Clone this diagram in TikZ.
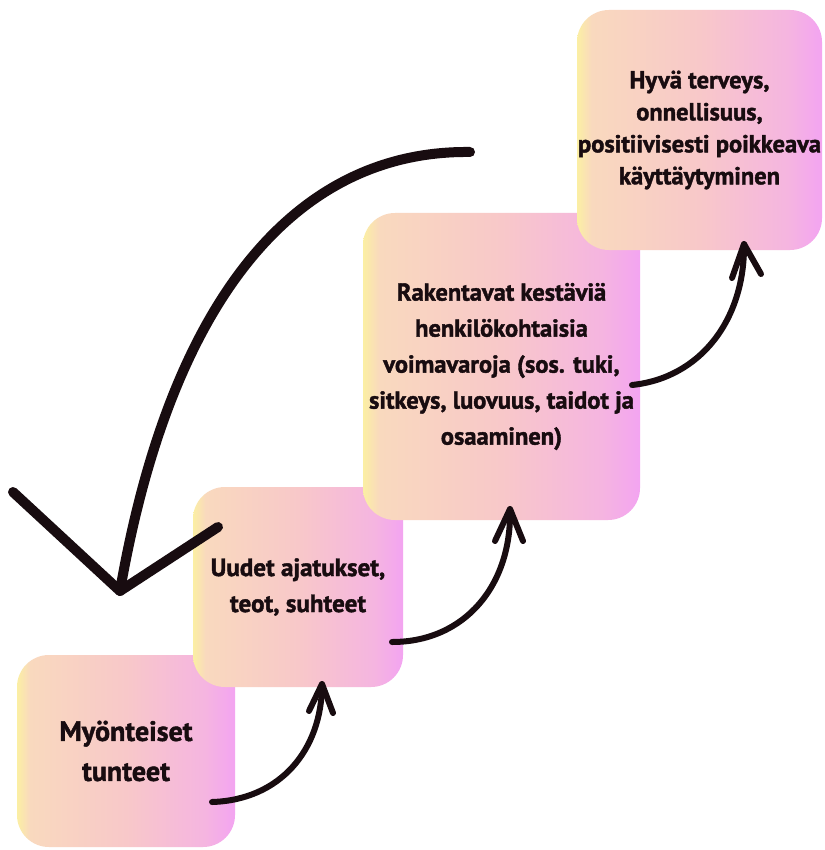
\documentclass[tikz,border=0pt]{standalone}
\usepackage{fontspec}
\usetikzlibrary{calc}
\newfontfamily\boxfont{PT Sans}[BoldFeatures={FakeBold=1.6}]
\definecolor{gy}{HTML}{FBEFA3}
\definecolor{gpeach}{HTML}{F9D9BE}
\definecolor{gm}{HTML}{F8C8C9}
\definecolor{gpink}{HTML}{F5B5E0}
\definecolor{gp}{HTML}{F3A4F1}
\definecolor{ink}{HTML}{180C10}
\pgfdeclarehorizontalshading{boxgrad}{100bp}{color(0bp)=(gy); color(25bp)=(gy); color(28bp)=(gpeach); color(50bp)=(gm); color(68bp)=(gpink); color(75bp)=(gp); color(100bp)=(gp)}
\begin{document}
\begin{tikzpicture}[x=1pt,y=-1pt,
  stepbox/.style={rounded corners=32pt, shade, shading=boxgrad, draw=none, inner sep=0pt, text=ink, align=center},
  flow/.style={line width=6pt, line cap=round, line join=round, draw=ink},
  bigflow/.style={line width=10pt, line cap=round, line join=round, draw=ink}]
\useasboundingbox[fill=white] (0,0) rectangle (824,850);
% boxes
\node[stepbox, minimum width=218pt, minimum height=192pt, font={\boxfont\bfseries\fontsize{28}{40}\selectfont}] (b1) at (126,751) {Myönteiset\\tunteet};
\node[stepbox, minimum width=210pt, minimum height=200pt, font={\boxfont\bfseries\fontsize{25}{36}\selectfont}] (b2) at (298,587) {Uudet ajatukset,\\teot, suhteet};
\node[stepbox, minimum width=277pt, minimum height=307pt, font={\boxfont\bfseries\fontsize{24.5}{36}\selectfont}] (b3) at (501.5,366.5) {Rakentavat kestäviä\\henkilökohtaisia\\voimavaroja (sos. tuki,\\sitkeys, luovuus, taidot ja\\osaaminen)};
\node[stepbox, minimum width=245pt, minimum height=240pt, font={\boxfont\bfseries\fontsize{24.5}{32}\selectfont}] (b4) at (699.5,130) {Hyvä terveys,\\onnellisuus,\\positiivisesti poikkeava\\käyttäytyminen};
% connector end points
\coordinate (a1s) at (212,802);
\coordinate (a1t) at (322,684);
\coordinate (a2s) at (392,642);
\coordinate (a2t) at (510,509);
\coordinate (a3s) at (632,385);
\coordinate (a3t) at (744,244);
\coordinate (bs) at (470,152);
\coordinate (bt) at (120,591);
% small arrows
\draw[flow] (a1s) .. controls (280,800) and (322,750) .. (a1t);
\draw[flow] ($(a1t)+(-13,27)$) -- (a1t) -- ($(a1t)+(11,29)$);
\draw[flow] (a2s) .. controls (465,642) and (512,585) .. (a2t);
\draw[flow] ($(a2t)+(-15,32)$) -- (a2t) -- ($(a2t)+(13,32)$);
\draw[flow] (a3s) .. controls (700,378) and (745,320) .. (a3t);
\draw[flow] ($(a3t)+(-12,34)$) -- (a3t) -- ($(a3t)+(17,30)$);
% big return arrow
\draw[bigflow] (bs) .. controls (300,150) and (172,292) .. (bt);
\draw[bigflow] (13,492) -- (bt) -- (218,527);
\end{tikzpicture}
\end{document}
